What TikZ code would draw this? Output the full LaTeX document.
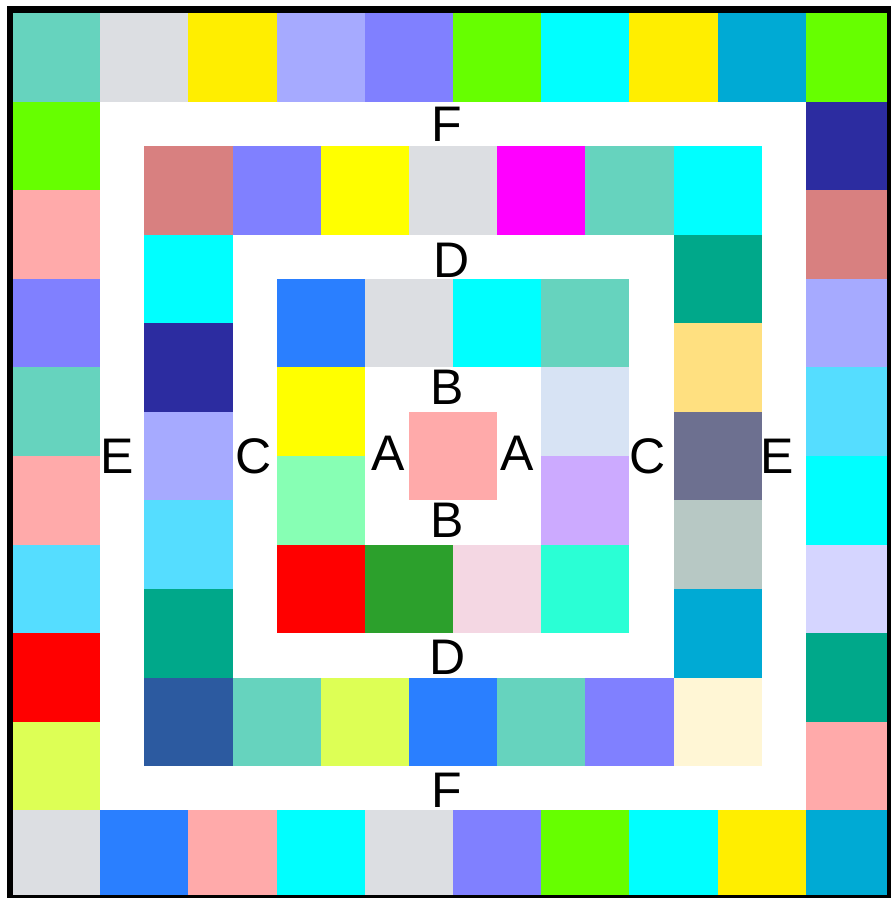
\documentclass[tikz,border=0pt]{standalone}
\usepackage{fontspec}
\setmainfont{Liberation Sans}
\usepackage{xcolor}
\usepackage{tikz}
\definecolor{seafoam}{HTML}{66D3BE}
\definecolor{mist}{HTML}{DCDEE2}
\definecolor{gold}{HTML}{FFEE00}
\definecolor{periwinkle}{HTML}{A6AAFF}
\definecolor{iris}{HTML}{8080FF}
\definecolor{lime}{HTML}{66FF00}
\definecolor{aquabright}{HTML}{00FFFF}
\definecolor{fuchsia}{HTML}{FF00FF}
\definecolor{lemon}{HTML}{FFFF00}
\definecolor{scarlet}{HTML}{FF0000}
\definecolor{ocean}{HTML}{00AAD4}
\definecolor{navy}{HTML}{2C2CA0}
\definecolor{rosewood}{HTML}{D88080}
\definecolor{sky}{HTML}{55DDFF}
\definecolor{lilac}{HTML}{D5D5FF}
\definecolor{jade}{HTML}{00A88A}
\definecolor{blush}{HTML}{FFAAAA}
\definecolor{azure}{HTML}{2A7FFF}
\definecolor{pear}{HTML}{DDFF55}
\definecolor{butter}{HTML}{FFE080}
\definecolor{dusk}{HTML}{6D7090}
\definecolor{sage}{HTML}{B7C8C4}
\definecolor{cobalt}{HTML}{2C5AA0}
\definecolor{cream}{HTML}{FFF6D5}
\definecolor{ice}{HTML}{D7E3F4}
\definecolor{orchid}{HTML}{CCAAFF}
\definecolor{leaf}{HTML}{2CA02C}
\definecolor{petal}{HTML}{F4D7E3}
\definecolor{turq}{HTML}{2AFFD5}
\definecolor{mint}{HTML}{87FFB4}

\begin{document}
\begin{tikzpicture}[
  x=88.2pt,y=-88.6pt,
  cell/.style={fill=#1,draw=none},
  lbl/.style={inner sep=0pt,font=\fontsize{50}{60}\selectfont,text=black},
  frame/.style={draw=black,line width=6.5pt}
]
\useasboundingbox (-0.1361,-0.1467) rectangle (9.9546,9.9887);
\begin{scope}
\clip (-0.0227,-0.0395) rectangle (9.955,9.989);
% outer ring
\foreach \c [count=\i from 0] in {seafoam,mist,gold,periwinkle,iris,lime,aquabright,gold,ocean,lime}
  \path[cell=\c] (\i,0) rectangle ++(1,1);
\foreach \c [count=\i from 1] in {lime,blush,iris,seafoam,blush,sky,scarlet,pear}
  \path[cell=\c] (0,\i) rectangle ++(1,1);
\foreach \c [count=\i from 1] in {navy,rosewood,periwinkle,sky,aquabright,lilac,jade,blush}
  \path[cell=\c] (9,\i) rectangle ++(1,1);
\foreach \c [count=\i from 0] in {mist,azure,blush,aquabright,mist,iris,lime,aquabright,gold,ocean}
  \path[cell=\c] (\i,9) rectangle ++(1,1);
% middle ring
\foreach \c [count=\i from 0] in {rosewood,iris,lemon,mist,fuchsia,seafoam,aquabright}
  \path[cell=\c] (1.5+\i,1.5) rectangle ++(1,1);
\foreach \c [count=\i from 1] in {aquabright,navy,periwinkle,sky,jade}
  \path[cell=\c] (1.5,1.5+\i) rectangle ++(1,1);
\foreach \c [count=\i from 1] in {jade,butter,dusk,sage,ocean}
  \path[cell=\c] (7.5,1.5+\i) rectangle ++(1,1);
\foreach \c [count=\i from 0] in {cobalt,seafoam,pear,azure,seafoam,iris,cream}
  \path[cell=\c] (1.5+\i,7.5) rectangle ++(1,1);
% inner ring
\foreach \c [count=\i from 0] in {azure,mist,aquabright,seafoam}
  \path[cell=\c] (3+\i,3) rectangle ++(1,1);
\foreach \c [count=\i from 1] in {lemon,mint}
  \path[cell=\c] (3,3+\i) rectangle ++(1,1);
\foreach \c [count=\i from 1] in {ice,orchid}
  \path[cell=\c] (6,3+\i) rectangle ++(1,1);
\foreach \c [count=\i from 0] in {scarlet,leaf,petal,turq}
  \path[cell=\c] (3+\i,6) rectangle ++(1,1);
% centre
\path[cell=blush] (4.5,4.5) rectangle ++(1,1);
\end{scope}
\draw[frame] (-0.0227,-0.0395) rectangle (9.955,9.989);
% labels
\node[lbl] (ftop) at (4.93,1.26) {F};
\node[lbl] (fbot) at (4.93,8.77) {F};
\node[lbl] (eleft) at (1.19,5.0) {E};
\node[lbl] (eright) at (8.67,5.0) {E};
\node[lbl] (dtop) at (4.98,2.79) {D};
\node[lbl] (dbot) at (4.94,7.27) {D};
\node[lbl] (cleft) at (2.74,5.0) {C};
\node[lbl] (cright) at (7.21,5.0) {C};
\node[lbl] (btop) at (4.93,4.22) {B};
\node[lbl] (bbot) at (4.93,5.73) {B};
\node[lbl] (aleft) at (4.26,4.97) {A};
\node[lbl] (aright) at (5.73,4.97) {A};
\end{tikzpicture}
\end{document}
